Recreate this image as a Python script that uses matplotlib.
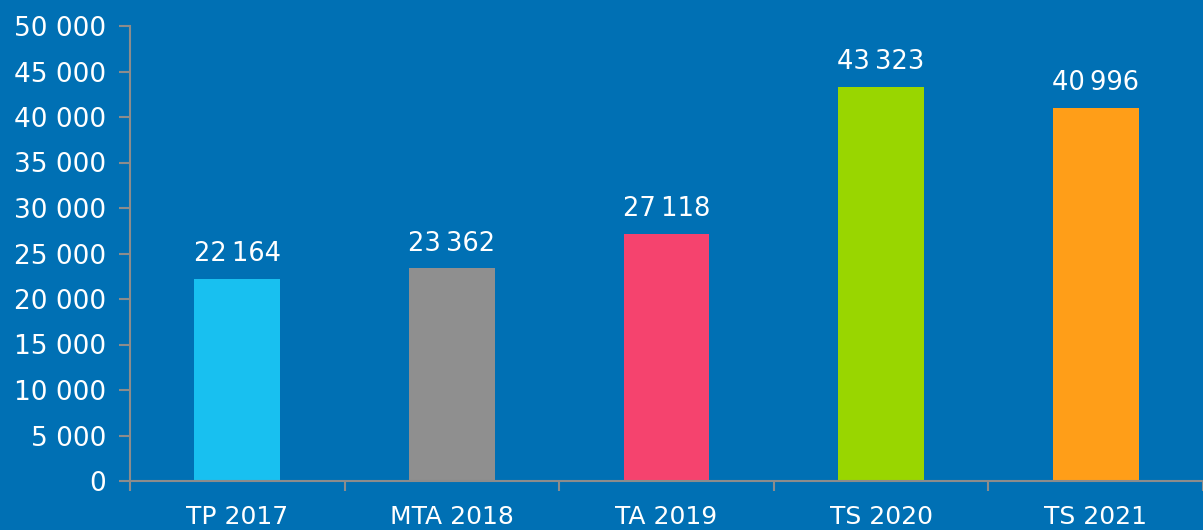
import matplotlib
matplotlib.use("Agg")
import matplotlib.pyplot as plt
from matplotlib.ticker import FuncFormatter, FixedLocator

categories = ["TP 2017", "MTA 2018", "TA 2019", "TS 2020", "TS 2021"]
values = [22164, 23362, 27118, 43323, 40996]
colors = ["#18C0F0", "#8F8F8F", "#F5436E", "#99D600", "#FF9E18"]

bg = "#0070B4"
axis_grey = "#8C8C8C"

plt.rcParams["font.family"] = ["DejaVu Sans"]

def fmt(v, sep=" "):
    return f"{int(v):,}".replace(",", sep)

fig = plt.figure(figsize=(12.03, 5.30), dpi=100, facecolor=bg)
ax = fig.add_axes([130 / 1203, 1 - 481 / 530, 1 - 130 / 1203, (481 - 26) / 530])
ax.set_facecolor(bg)

x = list(range(len(categories)))
ax.bar(x, values, width=0.4, color=colors, zorder=2)

for xi, v in zip(x, values):
    ax.text(xi, v + 1300, fmt(v, "\u2009"), ha="center", va="bottom",
            color="white", fontsize=18.5)

ax.set_xlim(-0.5, len(categories) - 0.5)
ax.set_ylim(0, 50000)
ax.set_yticks(range(0, 50001, 5000))
ax.yaxis.set_major_formatter(FuncFormatter(lambda v, p: fmt(v)))

ax.set_xticks(x)
ax.set_xticklabels(categories)
ax.xaxis.set_minor_locator(FixedLocator([i - 0.5 for i in range(len(categories) + 1)]))
ax.tick_params(axis="x", which="major", length=0, pad=17.5, labelsize=18, colors="white")
ax.tick_params(axis="x", which="minor", length=7, width=1.5, color=axis_grey)
ax.tick_params(axis="y", length=8, width=1.5, color=axis_grey, labelsize=19,
               labelcolor="white", pad=9)

for side in ("top", "right"):
    ax.spines[side].set_visible(False)
for side in ("left", "bottom"):
    ax.spines[side].set_color(axis_grey)
    ax.spines[side].set_linewidth(1.5)

fig.savefig("out.png", dpi=100, facecolor=bg)
